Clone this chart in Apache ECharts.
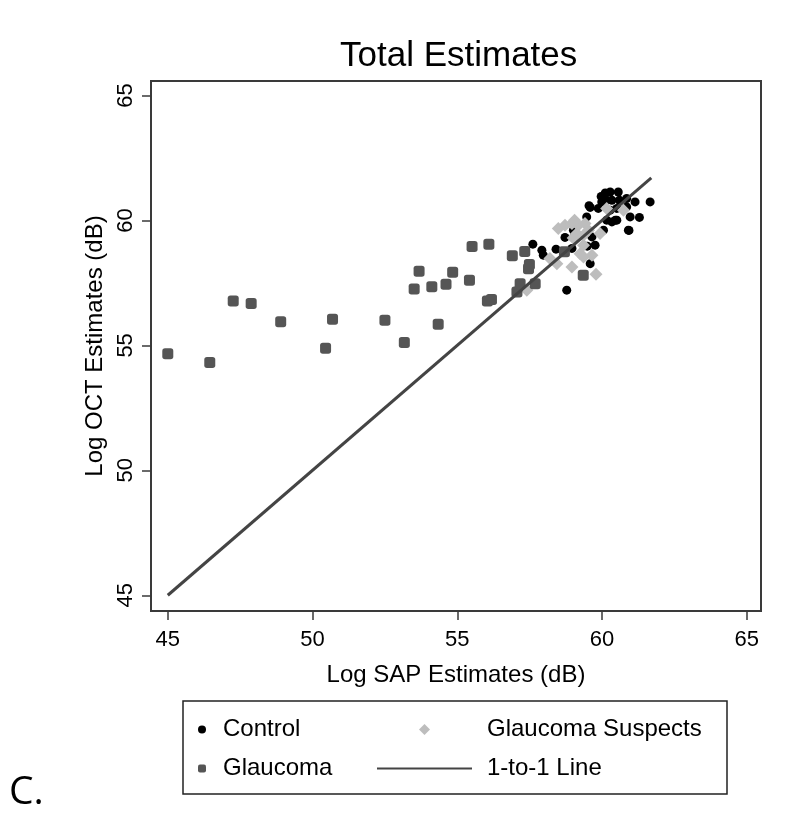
<!DOCTYPE html>
<html>
<head>
<meta charset="utf-8">
<script src="https://cdn.jsdelivr.net/npm/echarts@6/dist/echarts.min.js"></script>
<style>html,body{margin:0;padding:0;background:#fff;}#chart{width:800px;height:817px;}</style>
</head>
<body>
<div id="chart"></div>
<script>
const xTicks = [45, 50, 55, 60, 65];
const yTicks = [45, 50, 55, 60, 65];

const control = [
  [57.61,59.05],[57.92,58.81],[57.97,58.61],[58.41,58.85],[58.72,59.32],[58.78,57.21],
  [59.03,59.32],[58.96,58.88],[59.59,60.52],[59.49,58.97],[59.76,59.01],[59.59,58.27],
  [59.65,59.34],[59.87,60.48],[59.99,60.74],[60.11,61.10],[60.28,61.14],[60.56,61.14],
  [60.16,60.81],[60.34,60.81],[60.85,60.88],[61.14,60.74],[61.66,60.74],[60.97,60.14],
  [61.29,60.12],[60.91,59.61],[60.16,60.01],[60.34,59.94],[60.51,60.01],[60.28,60.41],
  [60.05,59.61],[59.01,59.61],[59.47,60.14],[60.85,60.54],[60.51,60.48],[60.60,60.81],
  [59.97,60.96],[59.55,60.59],[60.46,60.01],[60.93,59.60]
];

const suspects = [
  [58.49,59.68],[58.72,59.81],[58.96,59.88],[59.18,59.81],[59.41,59.88],[59.53,59.61],
  [59.13,59.48],[59.36,59.41],[59.93,59.48],[59.24,58.67],[59.36,58.54],[59.65,58.61],
  [58.96,58.14],[59.79,57.85],[58.20,58.48],[58.44,58.27],[57.40,57.21],[60.16,60.48],
  [60.74,60.41],[59.05,60.01],[59.36,59.01],[59.00,59.30]
];

const glaucoma = [
  [45.00,54.66],[46.45,54.31],[47.26,56.78],[47.88,56.68],[48.90,55.95],[50.69,56.05],
  [50.45,54.88],[52.50,56.01],[53.17,55.12],[53.51,57.26],[53.68,57.97],[54.12,57.35],
  [54.34,55.85],[54.61,57.45],[54.84,57.93],[55.42,57.61],[55.51,58.96],[56.09,59.05],
  [56.04,56.78],[56.18,56.84],[56.90,58.59],[57.33,58.76],[57.06,57.14],[57.17,57.47],
  [57.49,58.24],[57.46,58.07],[57.69,57.47],[58.70,58.75],[59.35,57.81]
];

const oneToOne = [[45, 45], [61.7, 61.7]];

const chart = echarts.init(document.getElementById('chart'), null, {renderer: 'canvas'});
const FONT = '"Liberation Sans", Arial, sans-serif';
const axisColor = '#3a3a3a';
const legendText = (pad) => ({fontSize: 24, color: '#000', fontFamily: FONT, padding: [0, 0, 0, pad]});

chart.setOption({
  animation: false,
  backgroundColor: '#fff',
  textStyle: {fontFamily: FONT, color: '#000'},
  title: [
    {text: 'Total Estimates', left: 335, top: 34,
     textStyle: {fontFamily: FONT, fontSize: 35, fontWeight: 'normal', color: '#000'}},
    {text: 'C.', left: 4, top: 768,
     textStyle: {fontFamily: '"Open Sans", "Noto Sans", sans-serif', fontSize: 39, fontWeight: 'normal', color: '#000'}}
  ],
  grid: {left: 151, right: 39, top: 81, bottom: 206, show: true, borderColor: axisColor, borderWidth: 2, backgroundColor: '#fff'},
  xAxis: {
    type: 'value', min: 44.42, max: 65.49,
    splitLine: {show: false},
    axisLine: {show: true, lineStyle: {color: axisColor, width: 2}},
    axisTick: {show: true, customValues: xTicks, length: 9, lineStyle: {color: axisColor, width: 1.5}},
    axisLabel: {customValues: xTicks, fontSize: 22, margin: 18, color: '#000', fontFamily: FONT},
    name: 'Log SAP Estimates (dB)', nameLocation: 'middle', nameGap: 52,
    nameTextStyle: {fontSize: 24, color: '#000', fontFamily: FONT}
  },
  yAxis: {
    type: 'value', min: 44.37, max: 65.58,
    splitLine: {show: false},
    axisLine: {show: true, lineStyle: {color: axisColor, width: 2}},
    axisTick: {show: true, customValues: yTicks, length: 9, lineStyle: {color: axisColor, width: 1.5}},
    axisLabel: {customValues: yTicks, fontSize: 22, margin: 14, rotate: 90, color: '#000', fontFamily: FONT},
    name: 'Log OCT Estimates (dB)', nameLocation: 'middle', nameGap: 44,
    nameTextStyle: {fontSize: 24, color: '#000', fontFamily: FONT}
  },
  legend: [
    {orient: 'vertical', left: 193, top: 712.5, itemWidth: 8, itemHeight: 8, itemGap: 15,
     data: [{name: 'Control', icon: 'circle'}, {name: 'Glaucoma', icon: 'roundRect'}],
     textStyle: legendText(12)},
    {orient: 'vertical', left: 414, top: 712.5, itemWidth: 11, itemHeight: 11,
     data: [{name: 'Glaucoma Suspects', icon: 'diamond'}],
     textStyle: legendText(52)},
    {orient: 'vertical', left: 372, top: 751.5, itemWidth: 95, itemHeight: 2,
     data: [{name: '1-to-1 Line', icon: 'rect'}],
     textStyle: legendText(10)}
  ],
  graphic: [
    {type: 'rect', shape: {x: 183, y: 701, width: 544, height: 93},
     style: {fill: 'none', stroke: '#222', lineWidth: 1.5}, silent: true}
  ],
  series: [
    {name: 'Control', type: 'scatter', data: control, symbol: 'circle', symbolSize: 9,
     itemStyle: {color: '#000', opacity: 1}, z: 2},
    {name: 'Glaucoma Suspects', type: 'scatter', data: suspects, symbol: 'diamond', symbolSize: 13,
     itemStyle: {color: '#bdbdbd', opacity: 1}, z: 3},
    {name: 'Glaucoma', type: 'scatter', data: glaucoma, symbol: 'roundRect', symbolSize: 11,
     itemStyle: {color: '#555555', opacity: 1}, z: 4},
    {name: '1-to-1 Line', type: 'line', data: oneToOne, symbol: 'none', showSymbol: false,
     lineStyle: {color: '#444', width: 3}, itemStyle: {color: '#444'}, z: 5}
  ]
});
</script>
</body>
</html>
